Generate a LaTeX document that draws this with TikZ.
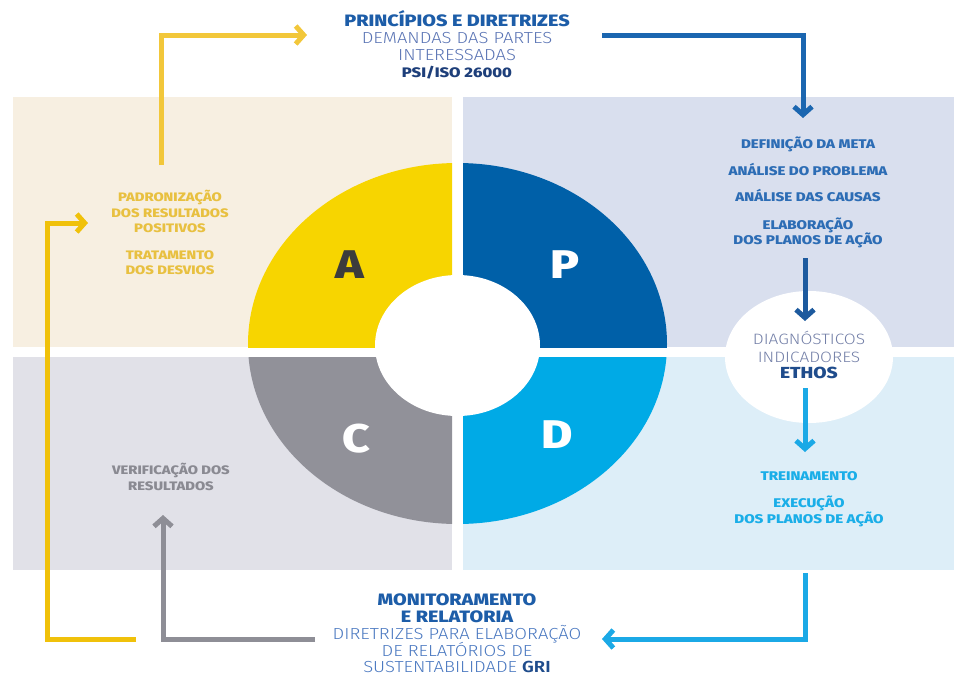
\documentclass[tikz,border=0pt]{standalone}
\usepackage{fontspec}
\setmainfont{Fira Sans}[BoldFont={Fira Sans ExtraBold}, BoldFeatures={FakeStretch=1.2}]
\newfontfamily\lightfont{Fira Sans Light}[FakeStretch=1.15]
\usetikzlibrary{arrows.meta}
\definecolor{panelTL}{HTML}{F7EFE1}
\definecolor{panelTR}{HTML}{D9DFEE}
\definecolor{panelBL}{HTML}{E1E1E8}
\definecolor{panelBR}{HTML}{DDEEF8}
\definecolor{qA}{HTML}{F7D500}
\definecolor{qP}{HTML}{0060A8}
\definecolor{qC}{HTML}{919199}
\definecolor{qD}{HTML}{00AAE6}
\definecolor{letA}{HTML}{3C3C3C}
\definecolor{arrYel}{HTML}{F2C73A}
\definecolor{arrYel2}{HTML}{F0C10A}
\definecolor{arrBlue}{HTML}{1B66B0}
\definecolor{arrDark}{HTML}{1D5A9E}
\definecolor{arrLight}{HTML}{1BA9E6}
\definecolor{arrGray}{HTML}{8E8E96}
\definecolor{txtTitle}{HTML}{1D5DA8}
\definecolor{txtLight}{HTML}{5A74B4}
\definecolor{txtNavy}{HTML}{1E3F7A}
\definecolor{txtItem}{HTML}{2D6DB5}
\definecolor{txtDiag}{HTML}{7480A8}
\definecolor{txtEthos}{HTML}{1F4C8C}
\definecolor{txtD}{HTML}{1AAEE8}
\definecolor{txtA}{HTML}{E8C040}
\definecolor{txtC}{HTML}{8A8A92}
\definecolor{txtBot}{HTML}{4A78C0}
\tikzset{
  lbl/.style={inner sep=0pt, anchor=base},
  hbold/.style={lbl, font=\bfseries\fontsize{16.5}{17}\selectfont},
  hlight/.style={lbl, font=\lightfont\fontsize{16}{17}\selectfont},
  dlight/.style={lbl, font=\lightfont\fontsize{15}{17}\selectfont},
  itembf/.style={lbl, font=\bfseries\fontsize{12.6}{14}\selectfont},
  leftbf/.style={lbl, font=\bfseries\fontsize{12.3}{14}\selectfont},
  bigletter/.style={inner sep=0pt, anchor=base, font=\bfseries\fontsize{40}{40}\selectfont},
  conn/.style={line width=5pt, -{Straight Barb[length=8pt,width=18pt]}}
}
\begin{document}
\begin{tikzpicture}[x=1pt,y=-1pt]
\useasboundingbox (0,0) rectangle (954,675);
% panels
\fill[panelTL] (13,97) rectangle (452,347);
\fill[panelTR] (463,97) rectangle (954,347);
\fill[panelBL] (13,357) rectangle (452,570);
\fill[panelBR] (463,357) rectangle (954,570);
% quadrants
\begin{scope}\clip (13,97) rectangle (452,347);
  \fill[qA] (457.5,344) ellipse [x radius=209.5, y radius=181];\end{scope}
\begin{scope}\clip (463,97) rectangle (954,347);
  \fill[qP] (457.5,344) ellipse [x radius=209.5, y radius=181];\end{scope}
\begin{scope}\clip (13,357) rectangle (452,570);
  \fill[qC] (457.5,344) ellipse [x radius=209.5, y radius=180];\end{scope}
\begin{scope}\clip (463,357) rectangle (954,570);
  \fill[qD] (457.5,344) ellipse [x radius=209.5, y radius=180];\end{scope}
\fill[white] (457.5,345.5) ellipse [x radius=82.5, y radius=70.5];
\node[bigletter, text=letA] (la) at (350,278) {A};
\node[bigletter, text=white] (lp) at (565,278) {P};
\node[bigletter, text=white] (lc) at (356,452) {C};
\node[bigletter, text=white] (ld) at (557,448) {D};
% diagnostic circle
\fill[white] (809,357) ellipse [x radius=84, y radius=66];
% coordinates for connectors
\coordinate (y1s) at (161,165);
\coordinate (y1e) at (307,35);
\coordinate (b1s) at (602,35);
\coordinate (b1e) at (803,118);
\coordinate (b2s) at (805,258);
\coordinate (b2e) at (805,321);
\coordinate (l1s) at (805,388);
\coordinate (l1e) at (805,452);
\coordinate (l2s) at (805,573);
\coordinate (l2e) at (602,639);
\coordinate (g1s) at (315,639);
\coordinate (g1e) at (163,515);
\coordinate (y2s) at (136,639);
\coordinate (y2c) at (47,223);
\coordinate (y2e) at (88,223);
% connectors
\draw[conn, arrYel] (y1s) |- (y1e);
\draw[conn, arrBlue] (b1s) -| (b1e);
\draw[conn, arrDark] (b2s) -- (b2e);
\draw[conn, arrLight] (l1s) -- (l1e);
\draw[conn, arrLight] (l2s) |- (l2e);
\draw[conn, arrGray] (g1s) -| (g1e);
\draw[conn, arrYel2] (y2s) -| (y2c) -- (y2e);
% top text
\node[hbold, text=txtTitle] (t1) at (457,26) {PRINCÍPIOS E DIRETRIZES};
\node[hlight, text=txtLight] (t2) at (457,43) {DEMANDAS DAS PARTES};
\node[hlight, text=txtLight] (t3) at (457,60) {INTERESSADAS};
\node[hbold, text=txtNavy, font=\bfseries\fontsize{13.8}{15}\selectfont] (t4) at (457,77) {PSI/ISO 26000};
% right top items
\node[itembf, text=txtItem] (p1) at (808,148) {DEFINIÇÃO DA META};
\node[itembf, text=txtItem] (p2) at (808,175) {ANÁLISE DO PROBLEMA};
\node[itembf, text=txtItem] (p3) at (808,201.5) {ANÁLISE DAS CAUSAS};
\node[itembf, text=txtItem] (p4) at (808,229) {ELABORAÇÃO};
\node[itembf, text=txtItem] (p5) at (808,244) {DOS PLANOS DE AÇÃO};
% diagnostic text
\node[dlight, text=txtDiag] (g1) at (809,344) {DIAGNÓSTICOS};
\node[dlight, text=txtDiag] (g2) at (809,362) {INDICADORES};
\node[hbold, text=txtEthos, font=\bfseries\fontsize{16}{17}\selectfont] (g3) at (809,378) {ETHOS};
% right bottom items
\node[itembf, text=txtD] (d1) at (809,480) {TREINAMENTO};
\node[itembf, text=txtD] (d2) at (809,507) {EXECUÇÃO};
\node[itembf, text=txtD] (d3) at (809,523) {DOS PLANOS DE AÇÃO};
% left top items
\node[leftbf, text=txtA] (a1) at (170,201) {PADRONIZAÇÃO};
\node[leftbf, text=txtA] (a2) at (170,217) {DOS RESULTADOS};
\node[leftbf, text=txtA] (a3) at (170,232) {POSITIVOS};
\node[leftbf, text=txtA] (a4) at (170,259) {TRATAMENTO};
\node[leftbf, text=txtA] (a5) at (170,274) {DOS DESVIOS};
% left bottom
\node[leftbf, text=txtC] (c1) at (171,474) {VERIFICAÇÃO DOS};
\node[leftbf, text=txtC] (c2) at (171,490) {RESULTADOS};
% bottom text
\node[hbold, text=txtTitle] (m1) at (457,605) {MONITORAMENTO};
\node[hbold, text=txtTitle] (m2) at (457,622) {E RELATORIA};
\node[hlight, text=txtBot] (m3) at (457,639) {DIRETRIZES PARA ELABORAÇÃO};
\node[hlight, text=txtBot] (m4) at (457,656) {DE RELATÓRIOS DE};
\node[hlight, text=txtBot] (m5) at (457,672) {SUSTENTABILIDADE \textcolor{txtEthos}{\bfseries GRI}};
\end{tikzpicture}
\end{document}
